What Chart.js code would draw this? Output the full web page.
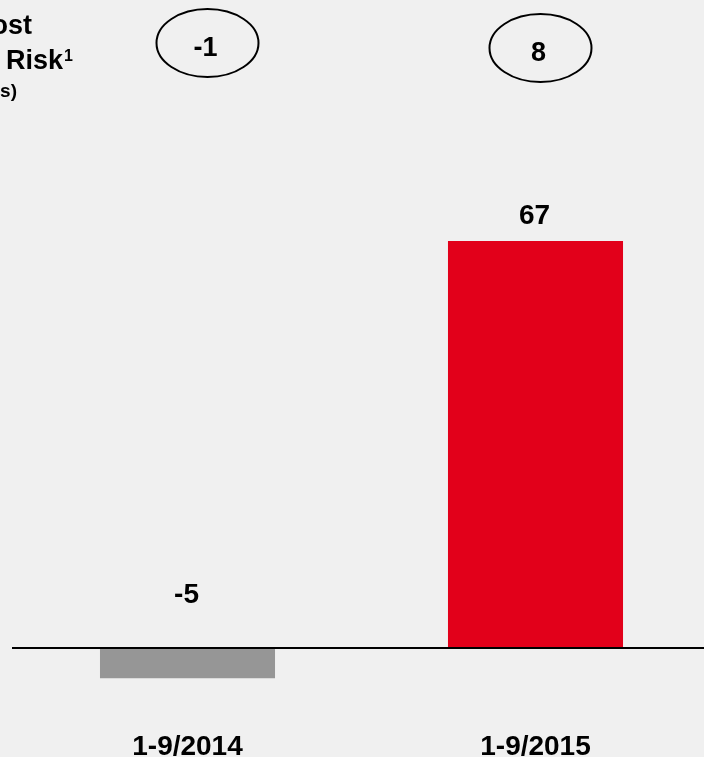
<!DOCTYPE html>
<html lang="en">
<head>
  <meta charset="UTF-8" />
  <title>Cost of Risk</title>
  <script src="https://cdn.jsdelivr.net/npm/chart.js"></script>
  <style>
    html, body { margin: 0; padding: 0; background: #f0f0f0; overflow: hidden; }
    body { width: 704px; height: 757px; position: relative; font-family: "Liberation Sans", Arial, sans-serif; }
    #chart { position: absolute; left: 0; top: 0; }
    .title { position: absolute; font-weight: bold; line-height: 1; white-space: nowrap; color: #000; text-align: right; }
    .sup { font-size: 16px; position: relative; top: -8px; margin-left: 1px; }
  </style>
</head>
<body>
  <canvas id="chart" width="712" height="757"></canvas>

  <!-- title block, cut off at the left edge like the slide -->
  <div class="title" style="right:672px; top:12px; font-size:27px;">Cost</div>
  <div class="title" style="right:631px; top:47px; font-size:27px;">of Risk<span class="sup">1</span></div>
  <div class="title" style="right:687px; top:81px; font-size:19px;">(in bps)</div>

  <script>
    const categories = ['1-9/2014', '1-9/2015'];
    const values = [-5, 67];
    const bubbleValues = [-1, 8];
    const barColors = ['#969696', '#e2001a'];

    const labelsPlugin = {
      id: 'labels',
      afterDatasetsDraw(chart) {
        const ctx = chart.ctx;
        const y0 = chart.scales.y.getPixelForValue(0);
        const xs = chart.scales.x;
        const bars = chart.getDatasetMeta(0).data;

        ctx.save();
        // zero line
        ctx.strokeStyle = '#000';
        ctx.lineWidth = 2;
        ctx.beginPath();
        ctx.moveTo(12, y0);
        ctx.lineTo(chart.width, y0);
        ctx.stroke();

        ctx.fillStyle = '#000';
        ctx.textAlign = 'center';
        ctx.textBaseline = 'alphabetic';

        // value labels
        ctx.font = 'bold 28px "Liberation Sans", Arial, sans-serif';
        bars.forEach((bar, i) => {
          const ty = values[i] >= 0 ? bar.y - 17 : y0 - 45;
          ctx.fillText(String(values[i]), bar.x - 1, ty);
        });

        // category labels
        ctx.font = 'bold 28px "Liberation Sans", Arial, sans-serif';
        categories.forEach((c, i) => {
          ctx.fillText(c, xs.getPixelForValue(i), 755);
        });

        // bubbles on top
        const dx = [20, 5];
        const cy = [43, 48];
        ctx.lineWidth = 2;
        ctx.font = 'bold 27px "Liberation Sans", Arial, sans-serif';
        bubbleValues.forEach((v, i) => {
          const cx = xs.getPixelForValue(i) + dx[i];
          ctx.beginPath();
          ctx.ellipse(cx, cy[i], 51, 34, 0, 0, Math.PI * 2);
          ctx.stroke();
          ctx.fillText(String(v), cx - 2, cy[i] + 13);
        });
        ctx.restore();
      }
    };

    new Chart(document.getElementById('chart'), {
      type: 'bar',
      data: {
        labels: categories,
        datasets: [{
          data: values,
          backgroundColor: barColors,
          borderWidth: 0,
          categoryPercentage: 1,
          barPercentage: 0.503
        }]
      },
      options: {
        responsive: false,
        animation: false,
        layout: { padding: { left: 13.5, right: 2.5, top: 71, bottom: 18 } },
        plugins: { legend: { display: false }, tooltip: { enabled: false } },
        scales: {
          x: { display: false },
          y: { display: false, min: -15, max: 95 }
        }
      },
      plugins: [labelsPlugin]
    });
  </script>
</body>
</html>
